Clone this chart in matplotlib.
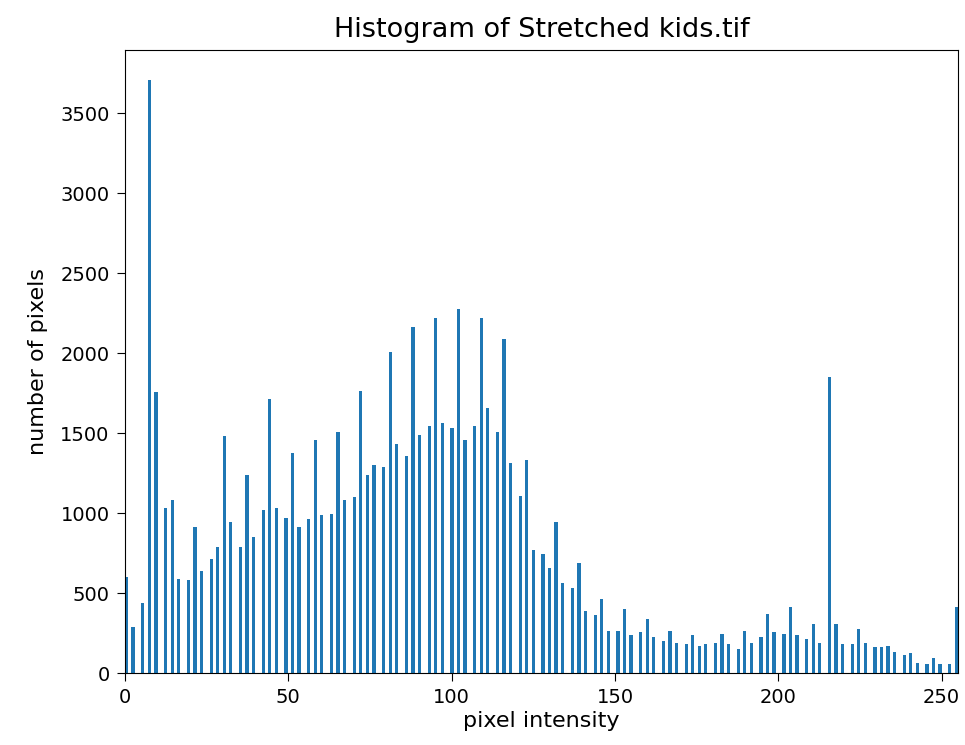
import matplotlib
matplotlib.use("Agg")
import matplotlib.pyplot as plt

intensities = [0, 2, 5, 7, 9, 12, 14, 16, 19, 21, 23, 26, 28, 30, 32, 35, 37, 39, 42, 44,
               46, 49, 51, 53, 56, 58, 60, 63, 65, 67, 70, 72, 74, 76, 79, 81, 83, 86, 88, 90,
               93, 95, 97, 100, 102, 104, 107, 109, 111, 114, 116, 118, 121, 123, 125, 128, 130, 132, 134, 137,
               139, 141, 144, 146, 148, 151, 153, 155, 158, 160, 162, 165, 167, 169, 172, 174, 176, 178, 181, 183,
               185, 188, 190, 192, 195, 197, 199, 202, 204, 206, 209, 211, 213, 216, 218, 220, 223, 225, 227, 230,
               232, 234, 236, 239, 241, 243, 246, 248, 250, 253, 255]
counts = [600, 285, 435, 3710, 1760, 1030, 1080, 590, 580, 910, 640, 715, 790, 1480, 945, 790, 1240, 850, 1020, 1715,
          1030, 968, 1375, 910, 965, 1460, 985, 995, 1510, 1080, 1100, 1765, 1240, 1300, 1290, 2005, 1430, 1355, 2165, 1490,
          1545, 2220, 1565, 1535, 2275, 1460, 1545, 2220, 1660, 1505, 2090, 1315, 1105, 1335, 770, 745, 655, 945, 560, 530,
          685, 390, 360, 463, 265, 265, 400, 235, 255, 335, 225, 200, 265, 190, 180, 235, 170, 180, 190, 245,
          180, 150, 265, 190, 225, 370, 255, 245, 410, 235, 210, 305, 190, 1850, 305, 180, 180, 275, 190, 160,
          160, 170, 130, 115, 125, 65, 55, 95, 55, 55, 410]
yticks = [0, 500, 1000, 1500, 2000, 2500, 3000, 3500]
xticks = [0, 50, 100, 150, 200, 250]

fig = plt.figure(figsize=(9.65, 7.45), dpi=100)
ax = fig.add_axes([0.1295, 0.0966, 0.8632, 0.8363])
ax.hist(intensities, bins=256, range=(0, 255), weights=counts, color="#1f77b4")
ax.set_xlim(0, 255)
ax.set_xticks(xticks)
ax.set_yticks(yticks)
ax.tick_params(labelsize=14, length=6, pad=5)
ax.set_xlabel("pixel intensity", fontsize=16, labelpad=3)
ax.set_ylabel("number of pixels", fontsize=16, labelpad=9)
ax.set_title("Histogram of Stretched kids.tif", fontsize=19.5, pad=9)
fig.savefig("out.png", dpi=100)
